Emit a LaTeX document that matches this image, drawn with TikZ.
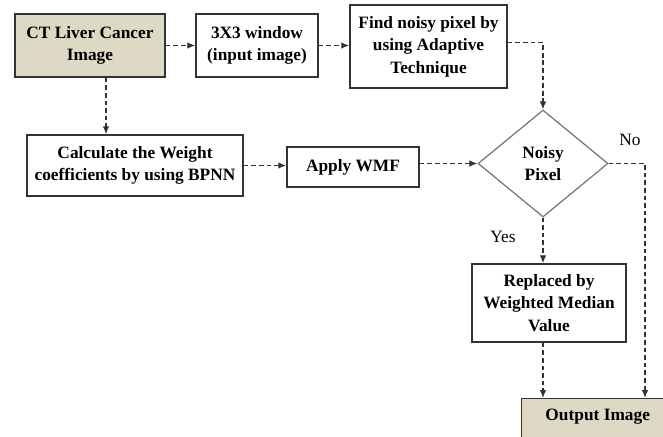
\documentclass[tikz,border=0pt]{standalone}
\usepackage{fontspec}
\setmainfont{Liberation Serif}
\usetikzlibrary{arrows.meta,shapes.geometric}
\definecolor{tan}{HTML}{DDD9C4}
\definecolor{edge}{HTML}{333333}
\begin{document}
\begin{tikzpicture}[x=0.75pt,y=-0.75pt,
  box/.style={draw=edge, line width=1.1pt, align=center, inner sep=0pt,
    font=\bfseries\fontsize{13}{17}\selectfont},
  tanbox/.style={box, fill=tan},
  dia/.style={diamond, draw=black!55, line width=0.9pt, inner sep=0pt, align=center,
    font=\bfseries\fontsize{13}{17}\selectfont},
  arr/.style={draw=edge, line width=1pt, dash pattern=on 3.5pt off 2.2pt,
    -{Latex[length=6pt,width=5pt]}},
  lbl/.style={font=\fontsize{13}{15}\selectfont, inner sep=0pt}
]
\useasboundingbox (0,0) rectangle (663,436);
\clip (0,0) rectangle (663,436);

\node[tanbox, minimum width=112.5pt, minimum height=47.25pt] (ct) at (90,45.5) {CT Liver Cancer\\Image};
\node[box, minimum width=91.5pt, minimum height=47.25pt] (win) at (257,45.5) {3X3 window\\(input image)};
\node[box, minimum width=117.75pt, minimum height=62.25pt] (find) at (428.5,46.5) {Find noisy pixel by\\using Adaptive\\Technique};
\node[dia, minimum width=97.5pt, minimum height=80.25pt] (dia) at (543,163.5) {Noisy\\Pixel};
\node[box, minimum width=162pt, minimum height=45.75pt] (calc) at (135,165.5) {Calculate the Weight\\coefficients by using BPNN};
\node[box, minimum width=99pt, minimum height=30pt] (apply) at (353,167) {Apply WMF};
\node[box, minimum width=115.5pt, minimum height=58.5pt] (rep) at (549,303) {Replaced by\\Weighted Median\\Value};
\node[tanbox, anchor=north west, minimum width=114pt, inner sep=4pt, text height=12.5pt, text depth=26pt] (out) at (521,398) {Output Image};

\node[lbl] (no) at (630,140) {No};
\node[lbl] (yes) at (503,237) {Yes};

\draw[arr] (ct.east) -- (win.west);
\draw[arr] (win.east) -- (win.east -| find.west);
\draw[arr] ([yshift=3pt]find.east) -| (dia.north);
\draw[arr] ([xshift=12pt]ct.south) -- ([xshift=12pt]ct.south |- calc.north);
\draw[arr] (calc.east) -- (calc.east -| apply.west);
\draw[arr] (apply.east |- dia.west) -- (dia.west);
\draw[arr] (dia.south) -- (dia.south |- rep.north);
\draw[arr] (dia.east) -| ([xshift=93pt]out.north west);
\draw[arr] (rep.south -| dia.south) -- (dia.south |- out.north);
\end{tikzpicture}
\end{document}
